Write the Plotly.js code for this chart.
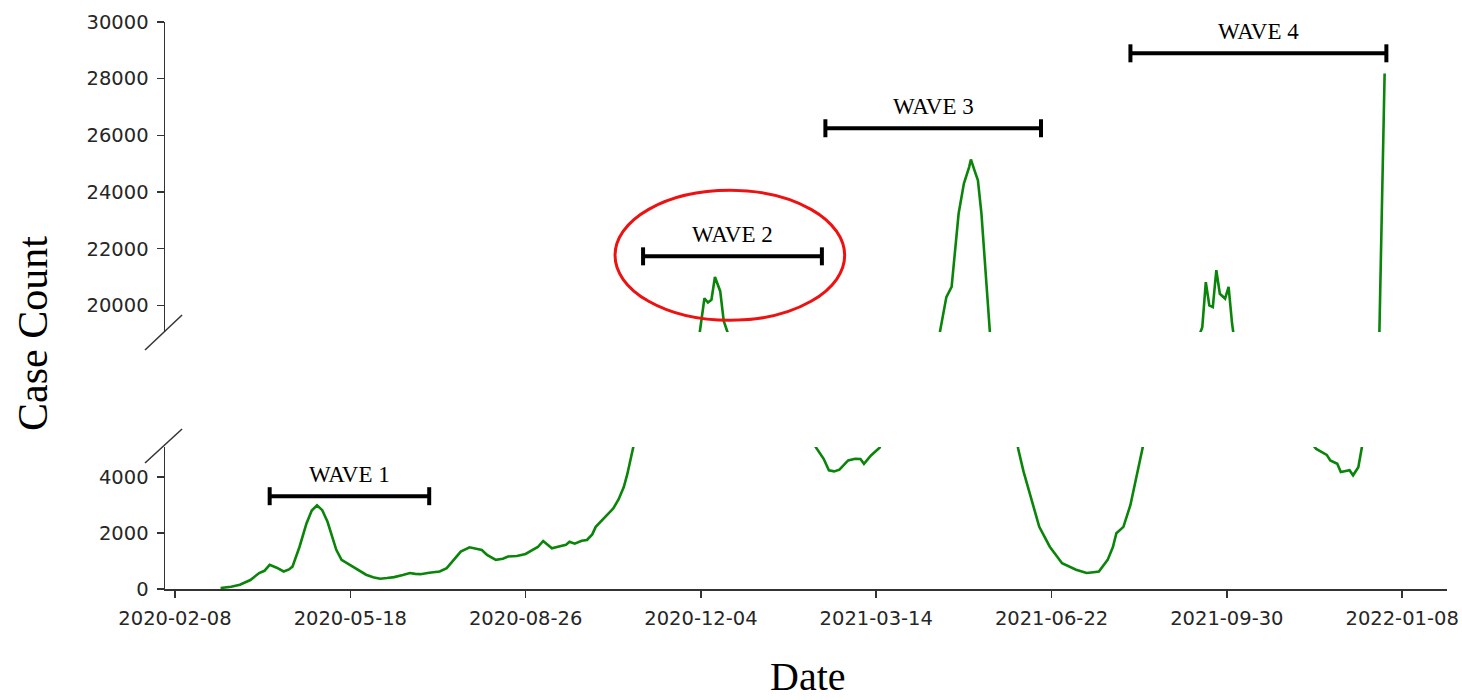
<!DOCTYPE html>
<html>
<head>
<meta charset="utf-8">
<script src="https://cdn.plot.ly/plotly-3.0.1.min.js"></script>
<style>
  html, body { margin: 0; padding: 0; background: #fff; }
  #chart { width: 1462px; height: 700px; }
</style>
</head>
<body>
<div id="chart"></div>
<script>
// ---- data (values inside the axis gap are estimates) ----
const dates = [
  "2020-03-05","2020-03-11","2020-03-16","2020-03-22","2020-03-27","2020-03-30","2020-04-02","2020-04-06",
  "2020-04-10","2020-04-13","2020-04-15","2020-04-19","2020-04-23","2020-04-26","2020-04-29","2020-05-02",
  "2020-05-05","2020-05-07","2020-05-10","2020-05-13","2020-05-18","2020-05-23","2020-05-27","2020-05-31",
  "2020-06-04","2020-06-08","2020-06-12","2020-06-17","2020-06-21","2020-06-24","2020-06-27","2020-07-02",
  "2020-07-08","2020-07-12","2020-07-16","2020-07-20","2020-07-25","2020-07-29","2020-08-01","2020-08-04",
  "2020-08-09","2020-08-13","2020-08-16","2020-08-21","2020-08-26","2020-08-30","2020-09-02","2020-09-05",
  "2020-09-07","2020-09-10","2020-09-14","2020-09-18","2020-09-20","2020-09-23","2020-09-27","2020-09-30",
  "2020-10-03","2020-10-05","2020-10-10","2020-10-15","2020-10-18","2020-10-21","2020-10-23","2020-10-25",
  "2020-10-27","2020-11-04","2020-11-14","2020-11-24","2020-12-01","2020-12-03","2020-12-06","2020-12-08",
  "2020-12-10","2020-12-12","2020-12-15","2020-12-17","2020-12-20","2020-12-24","2021-01-03","2021-01-13",
  "2021-01-23","2021-01-31","2021-02-05","2021-02-08","2021-02-12","2021-02-15","2021-02-18","2021-02-21",
  "2021-02-26","2021-03-02","2021-03-05","2021-03-07","2021-03-11","2021-03-16","2021-03-24","2021-04-03",
  "2021-04-13","2021-04-19","2021-04-23","2021-04-26","2021-04-30","2021-05-03","2021-05-06","2021-05-07",
  "2021-05-09","2021-05-11","2021-05-13","2021-05-15","2021-05-17","2021-05-21","2021-05-26","2021-05-30",
  "2021-06-03","2021-06-06","2021-06-10","2021-06-13","2021-06-15","2021-06-21","2021-06-28","2021-07-06",
  "2021-07-10","2021-07-12","2021-07-16","2021-07-19","2021-07-24","2021-07-27","2021-07-29","2021-08-02",
  "2021-08-06","2021-08-07","2021-08-10","2021-08-13","2021-08-21","2021-08-31","2021-09-08","2021-09-14",
  "2021-09-16","2021-09-18","2021-09-20","2021-09-22","2021-09-24","2021-09-26","2021-09-29","2021-10-01",
  "2021-10-03","2021-10-04","2021-10-10","2021-10-20","2021-10-30","2021-11-09","2021-11-16","2021-11-20",
  "2021-11-26","2021-11-28","2021-12-02","2021-12-04","2021-12-09","2021-12-11","2021-12-14","2021-12-16",
  "2021-12-21","2021-12-25","2021-12-26","2021-12-29"
];
const caseCount = [
  35,80,150,320,570,650,860,760,
  625,700,800,1500,2340,2800,2990,2815,
  2400,1990,1400,1040,860,650,510,420,
  365,390,425,500,570,540,530,580,
  625,745,1050,1335,1490,1450,1395,1220,
  1040,1080,1160,1180,1250,1395,1500,1715,
  1600,1455,1520,1575,1690,1620,1720,1750,
  1950,2220,2550,2875,3200,3640,4100,4590,
  5050,7500,11000,15000,18200,18900,20250,20100,
  20200,21000,20500,19450,18900,16500,12000,9000,
  7000,5800,5300,5000,4650,4240,4200,4260,
  4590,4650,4640,4470,4770,5050,7500,11500,
  16000,18950,20290,20650,23240,24300,24880,25150,
  24770,24410,23250,21130,18950,14000,9500,6500,
  5000,4200,3290,2700,2220,1510,920,690,
  600,570,600,625,1040,1500,1990,2220,
  3000,3290,4120,5050,8500,13000,17000,18900,
  19230,20820,20000,19940,21240,20410,20240,20650,
  19350,18900,15000,10500,7500,5900,5300,5000,
  4790,4590,4470,4180,4240,4060,4350,5050,
  11000,17000,19000,28180
];

const xTickVals = ["2020-02-08","2020-05-18","2020-08-26","2020-12-04","2021-03-14","2021-06-22","2021-09-30","2022-01-08"];
const lowerTicks = [0, 2000, 4000];
const upperTicks = [20000, 22000, 24000, 26000, 28000, 30000];

const waveNames = ["WAVE 1", "WAVE 2", "WAVE 3", "WAVE 4"];
const waveStart = ["2020-04-02", "2020-11-01", "2021-02-13", "2021-08-06"];
const waveEnd   = ["2020-07-02", "2021-02-11", "2021-06-16", "2021-12-30"];
const waveLevel = [3314, 21730, 26250, 28895];
const waveAxis  = ["y", "y2", "y2", "y2"];

const highlightX = ["2020-10-16", "2021-02-24"];
const highlightY = [19470, 24060];

// ---- chart ----
const green = "#0a850a";
const lineStyle = {color: green, width: 2.6};

const traces = [
  {x: dates, y: caseCount, type: "scatter", mode: "lines", line: lineStyle, xaxis: "x", yaxis: "y", hoverinfo: "x+y"},
  {x: dates, y: caseCount, type: "scatter", mode: "lines", line: lineStyle, xaxis: "x", yaxis: "y2", hoverinfo: "x+y"}
];

function midDate(a, b) {
  const ta = new Date(a + "T00:00:00Z").getTime(), tb = new Date(b + "T00:00:00Z").getTime();
  return new Date((ta + tb) / 2).toISOString().slice(0, 19).replace("T", " ");
}

const shapes = [];
const annotations = [];
waveNames.forEach((name, i) => {
  const yref = waveAxis[i];
  shapes.push({type: "line", xref: "x", yref: yref, x0: waveStart[i], x1: waveEnd[i], y0: waveLevel[i], y1: waveLevel[i],
               line: {color: "#000", width: 4}});
  [waveStart[i], waveEnd[i]].forEach(d => {
    shapes.push({type: "line", xref: "x", yref: yref, ysizemode: "pixel", yanchor: waveLevel[i],
                 x0: d, x1: d, y0: -9, y1: 9, line: {color: "#000", width: 4}});
  });
  annotations.push({xref: "x", yref: yref, x: midDate(waveStart[i], waveEnd[i]), y: waveLevel[i],
                    text: name, showarrow: false, yshift: 22, xanchor: "center", yanchor: "middle",
                    font: {family: "Liberation Serif, Times New Roman, serif", size: 23, color: "#000"}});
});

// red highlight ellipse around wave 2
shapes.push({type: "circle", xref: "x", yref: "y2", x0: highlightX[0], x1: highlightX[1], y0: highlightY[0], y1: highlightY[1],
             line: {color: "#ee1111", width: 3}});

// axis-break diagonal marks
const brk = {color: "#333", width: 1.5};
shapes.push({type: "line", xref: "paper", yref: "paper", x0: -0.0156, x1: 0.0133, y0: 0.4215, y1: 0.4832, line: brk});
shapes.push({type: "line", xref: "paper", yref: "paper", x0: -0.0156, x1: 0.0133, y0: 0.2222, y1: 0.2822, line: brk});

// axis titles as annotations
annotations.push({xref: "paper", yref: "paper", x: -0.103, y: 0.4515, text: "Case Count", textangle: -90, showarrow: false,
                  xanchor: "center", yanchor: "middle",
                  font: {family: "Liberation Serif, Times New Roman, serif", size: 42, color: "#000"}});
annotations.push({xref: "paper", yref: "paper", x: 0.5016, y: -0.155, text: "Date", showarrow: false,
                  xanchor: "center", yanchor: "middle",
                  font: {family: "Liberation Serif, Times New Roman, serif", size: 40, color: "#000"}});

const tickFont = {family: "DejaVu Sans, sans-serif", size: 19.5, color: "#262626"};
const axisCommon = {showline: true, linecolor: "#333", linewidth: 1.5, ticks: "outside", ticklen: 7, tickwidth: 1.5,
                    tickcolor: "#333", showgrid: false, zeroline: false, tickfont: tickFont};

const layout = {
  width: 1462, height: 700,
  margin: {l: 165, r: 15, t: 22, b: 111},
  paper_bgcolor: "#fff", plot_bgcolor: "#fff",
  showlegend: false,
  xaxis: Object.assign({}, axisCommon, {
    type: "date", range: ["2020-02-02 07:00", "2022-02-02 14:00"],
    tickmode: "array", tickvals: xTickVals, ticktext: xTickVals,
    anchor: "y", ticklabelstandoff: 4
  }),
  yaxis: Object.assign({}, axisCommon, {
    domain: [0, 0.2504], range: [0, 5070], tickmode: "array",
    tickvals: lowerTicks, ticktext: lowerTicks.map(String), anchor: "x", ticklabelstandoff: 4
  }),
  yaxis2: Object.assign({}, axisCommon, {
    domain: [0.4533, 1], range: [19060, 30000], tickmode: "array",
    tickvals: upperTicks, ticktext: upperTicks.map(String), anchor: "x", ticklabelstandoff: 4
  }),
  shapes: shapes,
  annotations: annotations
};

Plotly.newPlot("chart", traces, layout, {displayModeBar: false, staticPlot: true});
</script>
</body>
</html>
